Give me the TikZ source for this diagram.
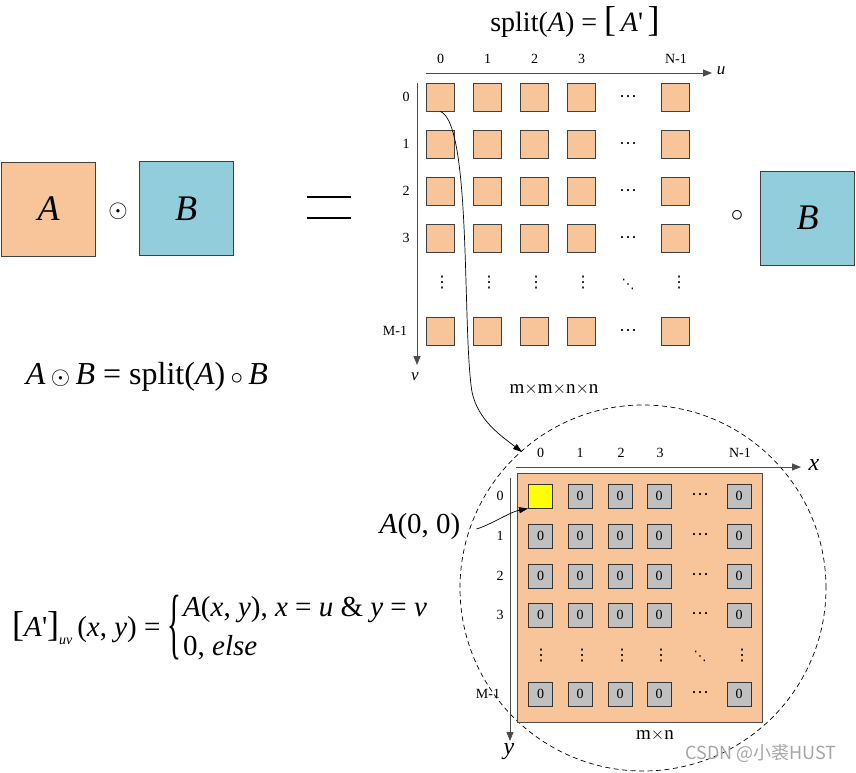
\documentclass[tikz,border=0pt]{standalone}
\usepackage{fontspec}
\usepackage{graphicx}
\setmainfont{Liberation Serif}
\newfontfamily\cjkfont{Noto Sans CJK SC}
\newfontfamily\symfont{DejaVu Sans}
\usetikzlibrary{arrows.meta}
\definecolor{peach}{HTML}{F8C59A}
\definecolor{skyb}{HTML}{92CDDC}
\definecolor{cellgray}{HTML}{C0C0C0}
\definecolor{cellyellow}{HTML}{FFFF00}
\newcommand\myfs[1]{\fontsize{#1}{#1}\selectfont}
\newcommand\prm{\textquotesingle}
\newcommand\hdots{\textperiodcentered\textperiodcentered\textperiodcentered}
\tikzset{
  bigbox/.style={draw=black!75, line width=0.8pt, minimum size=94, inner sep=0, font=\myfs{36}\itshape},
  gsq/.style={draw=black!75, line width=0.9pt, fill=peach, minimum size=28, inner sep=0},
  csq/.style={draw=black!80, line width=0.9pt, fill=cellgray, minimum size=24, inner sep=0, font=\myfs{14}},
  lbl/.style={inner sep=0, font=\myfs{14}},
  axis/.style={draw=black!70, line width=0.9pt},
  axisarr/.style={axis, -{Triangle[length=9,width=7]}},
  conn/.style={draw=black, line width=0.7pt, -{Triangle[length=9,width=6]}},
  dotlbl/.style={inner sep=0, font=\myfs{18}},
  vdotlbl/.style={inner sep=0, font=\symfont\myfs{16}},
  ddotlbl/.style={inner sep=0, font=\symfont\myfs{13}},
}
\begin{document}
\begin{tikzpicture}[x=1pt,y=-1pt]
\useasboundingbox (0,0) rectangle (856,772);

% left side
\node[bigbox, fill=peach] (A) at (48.5,209) {A};
\node[inner sep=0, font=\myfs{24}] (odot) at (118,211) {$\odot$};
\node[bigbox, fill=skyb] (B) at (186,208.5) {B};
\coordinate (eqa) at (307,197); \coordinate (eqb) at (351,197);
\coordinate (eqc) at (307,218); \coordinate (eqd) at (351,218);
\draw[line width=1.2pt] (eqa) -- (eqb) (eqc) -- (eqd);

\node[inner sep=0, font=\myfs{32}] (f1) at (147,377) {\textit{A}\,{\myfs{36}$\odot$}\,\textit{B} = split(\textit{A})\,$\circ$\,\textit{B}};

% piecewise definition
\node[anchor=west, inner sep=0, font=\myfs{29}] (f2) at (12,628) {{\myfs{36}[}\textit{A}\prm{\myfs{36}]}\raisebox{-8pt}{\myfs{14}\itshape uv}\,(\textit{x}, \textit{y}) =};
\node[anchor=west, inner sep=0, font=\myfs{29}] (brace) at ([xshift=7pt]f2.east) {\scalebox{1}[2.7]{\{}};
\node[anchor=west, inner sep=0, font=\myfs{29}, align=left] (cases) at ([xshift=1pt]brace.east) {\textit{A}(\textit{x}, \textit{y}), \textit{x} = \textit{u} \& \textit{y} = \textit{v}\\[10pt] 0, \textit{else}};

% top grid
\node[inner sep=0, font=\myfs{28}] (title) at (575,22) {split(\textit{A}) = {\myfs{36}[}\,\textit{A}\prm\,{\myfs{36}]}};
\foreach \c/\x/\t in {0/440.5/0,1/487.5/1,2/534.5/2,3/581.5/3,4/676/N-1}{
  \node[lbl] (tc\c) at (\x,59) {\t};
}
\foreach \r/\y/\t/\lx in {0/97/0/406,1/144/1/406,2/191/2/406,3/238/3/406,4/331/M-1/395}{
  \node[lbl] (tr\r) at (\lx,\y) {\t};
  \foreach \c/\x in {0/440.5,1/487.5,2/534.5,3/581.5,4/675.5}{
    \node[gsq] (s\r\c) at (\x,\y) {};
  }
  \node[dotlbl] (td\r) at (628,\y+2) {\hdots};
}
\foreach \c/\x in {0/442,1/489,2/536,3/583,4/679}{
  \node[vdotlbl] (tv\c) at (\x,283) {⋮};
}
\node[ddotlbl] (tdd) at (628,284) {⋱};
\coordinate (u0) at (426,73); \coordinate (u1) at (712,73);
\draw[axisarr] (u0) -- (u1);
\node[inner sep=0, font=\myfs{17}\itshape] (ulab) at (721,71) {u};
\coordinate (v0) at (417,83); \coordinate (v1) at (417,365);
\draw[axisarr] (v0) -- (v1);
\node[inner sep=0, font=\myfs{17}\itshape] (vlab) at (415,377) {v};
\node[inner sep=0, font=\myfs{19}] (mmnn) at (554,389) {m$\times$m$\times$n$\times$n};
\node[inner sep=0, font=\myfs{24}] (circ) at (737,216) {$\circ$};
\node[bigbox, fill=skyb] (B2) at (807.5,218) {B};

% connector to zoomed view
\coordinate (zt) at (522,452);
\draw[conn] (s00.south) .. controls (472,125) and (462,330) .. (472,392) .. controls (478,420) and (500,435) .. (zt);

% dashed circle
\node[draw, dashed, dash pattern=on 5pt off 3.5pt, line width=0.7pt, circle, minimum size=366, inner sep=0] (circle) at (643,588) {};

% bottom grid
\node[draw=black!70, line width=0.9pt, fill=peach, minimum width=245, minimum height=249, inner sep=0] (bg) at (639.5,597.5) {};
\foreach \c/\x/\t in {0/540.5/0,1/580/1,2/621/2,3/660/3,4/740/N-1}{
  \node[lbl] (bc\c) at (\x,453) {\t};
}
\foreach \r/\y/\t/\lx in {0/496/0/500,1/536/1/500,2/576/2/500,3/615/3/500,4/694/M-1/488}{
  \node[lbl] (br\r) at (\lx,\y) {\t};
  \foreach \c/\x in {0/540.5,1/580,2/620,3/659,4/739}{
    \node[csq] (c\r\c) at (\x,\y) {0};
  }
  \node[dotlbl] (bd\r) at (700,\y+1) {\hdots};
}
\node[draw=black!80, line width=0.9pt, fill=cellyellow, minimum size=24, inner sep=0] (yel) at (540.5,496) {};
\foreach \c/\x in {0/541,1/582,2/622,3/661,4/742}{
  \node[vdotlbl] (bv\c) at (\x,656) {⋮};
}
\node[ddotlbl] (bdd) at (700,656) {⋱};
\coordinate (x0) at (516,467); \coordinate (x1) at (801,467);
\draw[axisarr] (x0) -- (x1);
\node[inner sep=0, font=\myfs{24}\itshape] (xlab) at (814,465) {x};
\coordinate (y0) at (510,478); \coordinate (y1) at (510,741);
\draw[axisarr] (y0) -- (y1);
\node[inner sep=0, font=\myfs{24}\itshape] (ylab) at (509,752) {y};
\node[inner sep=0, font=\myfs{19}] (mn) at (655,735) {m$\times$n};

\node[inner sep=0, font=\myfs{29}] (A00) at (420,527) {\textit{A}(0, 0)};
\draw[conn] ([xshift=16pt,yshift=-2pt]A00.east) .. controls (490,525) and (510,512) .. (yel.south west);

\node[inner sep=0, font=\cjkfont\myfs{18}, text=black!35] (wm) at (761,753) {CSDN @小裘HUST};
\end{tikzpicture}
\end{document}
